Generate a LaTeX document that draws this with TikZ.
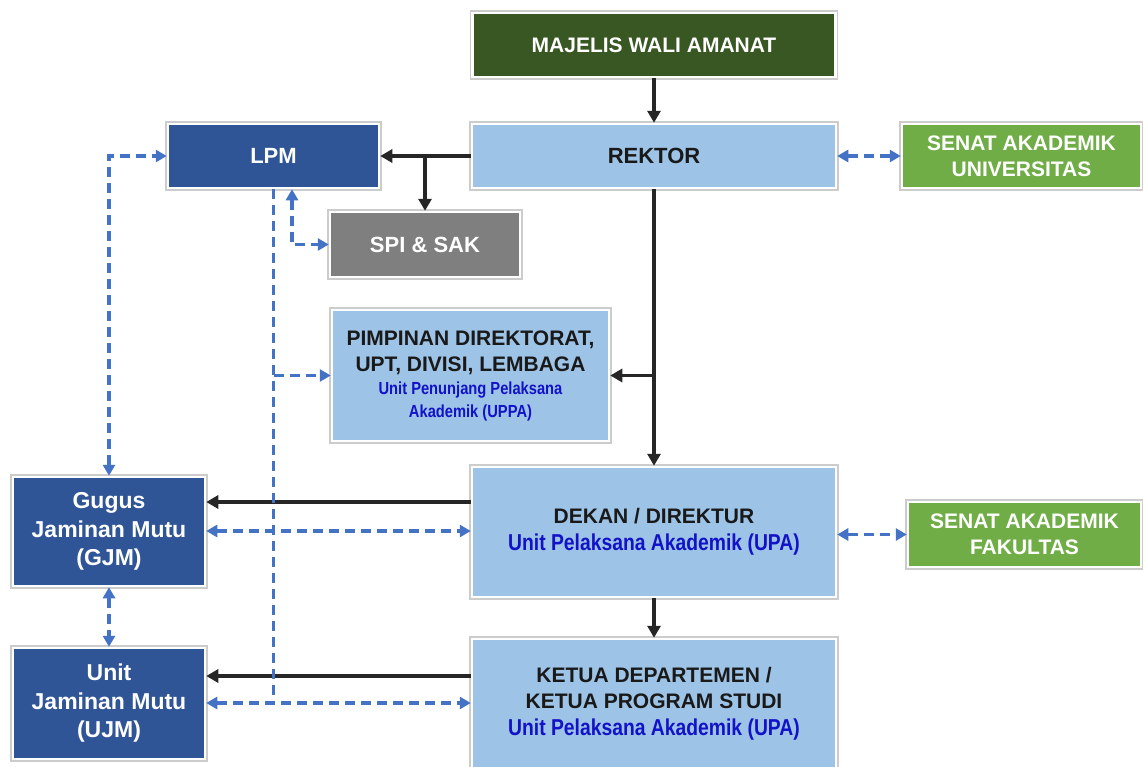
\documentclass[tikz,border=0pt]{standalone}
\usepackage{fontspec}
\setmainfont{Liberation Sans}
\newfontfamily\narfont{Liberation Sans}[FakeStretch=0.84]
\usetikzlibrary{arrows.meta}
\definecolor{mwagreen}{HTML}{385723}
\definecolor{lightblue}{HTML}{9DC3E6}
\definecolor{darkblue}{HTML}{2F5597}
\definecolor{spigray}{HTML}{7F7F7F}
\definecolor{senatgreen}{HTML}{70AD47}
\definecolor{dashblue}{HTML}{4472C4}
\definecolor{textblue}{HTML}{1212C8}
\definecolor{linegray}{HTML}{262626}
\tikzset{
  box/.style={rectangle, inner sep=0pt, align=center, draw=white, line width=2.5pt,
    preaction={draw=black!20, line width=5.5pt}, font=\bfseries\fontsize{21}{26}\selectfont},
  darkbox/.style={box, fill=#1, text=white},
  lightbox/.style={box, fill=lightblue, text=black!90},
  blk/.style={draw=linegray, line width=3.6pt, -{Triangle[length=12pt,width=13pt]}},
  bd/.style={draw=dashblue, line width=3.6pt, dash pattern=on 10pt off 6pt,
    arrows={-{Triangle[length=11pt,width=12pt]}}},
  bdd/.style={bd, arrows={{Triangle[length=11pt,width=12pt]}-{Triangle[length=11pt,width=12pt]}}},
  bline/.style={draw=dashblue, line width=3.6pt, dash pattern=on 10pt off 6pt},
}
\begin{document}
\begin{tikzpicture}[x=1pt,y=-1pt]
\useasboundingbox (0,0) rectangle (1143,766);
\clip (0,0) rectangle (1143,766);
\fill[white] (0,0) rectangle (1143,766);
% nodes
\node[darkbox=mwagreen, minimum width=363pt, minimum height=64pt] (mwa) at (654,45) {MAJELIS WALI AMANAT};
\node[lightbox, minimum width=364pt, minimum height=64pt, font=\bfseries\fontsize{22}{26}\selectfont] (rektor) at (654,156) {REKTOR};
\node[darkbox=darkblue, minimum width=211pt, minimum height=64pt, font=\bfseries\fontsize{22}{26}\selectfont] (lpm) at (273.5,156) {LPM};
\node[darkbox=spigray, minimum width=190pt, minimum height=65pt, font=\bfseries\fontsize{22}{26}\selectfont] (spi) at (425,244.5) {SPI \& SAK};
\node[lightbox, minimum width=277pt, minimum height=131pt] (pimp) at (470.5,375.5)
  {PIMPINAN DIREKTORAT,\\UPT, DIVISI, LEMBAGA\\[-3pt]
   {\narfont\fontsize{17.5}{23}\selectfont\color{textblue}Unit Penunjang Pelaksana}\\[-3pt]
   {\narfont\fontsize{17.5}{23}\selectfont\color{textblue}Akademik (UPPA)}};
\node[lightbox, minimum width=364pt, minimum height=130pt] (dekan) at (654,532)
  {DEKAN / DIREKTUR\\[1pt]
   {\narfont\fontsize{23}{27}\selectfont\color{textblue}Unit Pelaksana Akademik (UPA)}};
\node[lightbox, minimum width=364pt, minimum height=130pt] (ketua) at (654,704)
  {KETUA DEPARTEMEN /\\KETUA PROGRAM STUDI\\[1pt]
   {\narfont\fontsize{23}{27}\selectfont\color{textblue}Unit Pelaksana Akademik (UPA)}};
\node[darkbox=darkblue, minimum width=192pt, minimum height=109pt, font=\bfseries\fontsize{23}{28.5}\selectfont] (gjm) at (109,531.5) {Gugus\\Jaminan Mutu\\(GJM)};
\node[darkbox=darkblue, minimum width=192pt, minimum height=111pt, font=\bfseries\fontsize{23}{28.5}\selectfont] (ujm) at (109,703.5) {Unit\\Jaminan Mutu\\(UJM)};
\node[darkbox=senatgreen, minimum width=239pt, minimum height=64pt] (senu) at (1021.5,156) {SENAT AKADEMIK\\UNIVERSITAS};
\node[darkbox=senatgreen, minimum width=233pt, minimum height=65pt] (senf) at (1024.5,534.5) {SENAT AKADEMIK\\FAKULTAS};
% helper coordinates
\coordinate (yA) at (0,502);
\coordinate (yB) at (0,531);
\coordinate (yC) at (0,676);
\coordinate (yD) at (0,703);
\coordinate (j1) at (spi.north |- rektor.west);
\coordinate (j2) at (rektor.south |- pimp.east);
\coordinate (k) at (292,244.5);
% black connectors
\draw[blk] (mwa) -- (rektor);
\draw[blk] (rektor.west) -- (lpm.east);
\draw[blk] (j1) -- (spi.north);
\draw[blk] (rektor.south) -- (dekan.north);
\draw[blk] (j2) -- (pimp.east);
\draw[blk] (dekan) -- (ketua);
\draw[blk] (dekan.west |- yA) -- (gjm.east |- yA);
\draw[blk] (ketua.west |- yC) -- (ujm.east |- yC);
% blue dashed connectors
\draw[bline] (lpm.south) -- (lpm.south |- yD);
\draw[bd] (lpm.south |- pimp.west) -- (pimp.west);
\draw[bdd] (gjm.east |- yB) -- (dekan.west |- yB);
\draw[bdd] (ujm.east |- yD) -- (ketua.west |- yD);
\draw[bdd] (gjm) -- (ujm);
\draw[bdd] (gjm.north) -- (gjm.north |- lpm.west) -- (lpm.west);
\draw[bdd] (lpm.south -| k) -- (k) -- (spi.west);
\draw[bdd] (rektor.east) -- (senu.west);
\draw[bdd] (dekan.east |- senf.west) -- (senf.west);
\end{tikzpicture}
\end{document}
